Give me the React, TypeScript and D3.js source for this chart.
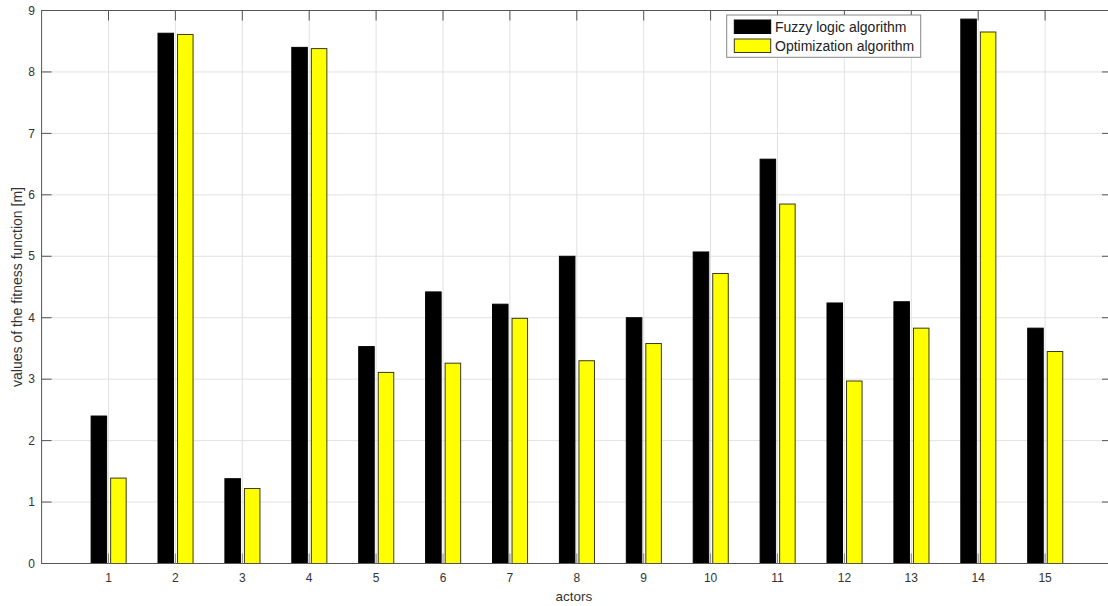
import React from "react";
import * as d3 from "d3";

const categories = ["1","2","3","4","5","6","7","8","9","10","11","12","13","14","15"];
const fuzzy = [2.40, 8.63, 1.38, 8.40, 3.53, 4.42, 4.22, 5.00, 4.00, 5.07, 6.58, 4.24, 4.26, 8.86, 3.83];
const optimization = [1.39, 8.61, 1.22, 8.38, 3.11, 3.26, 3.99, 3.30, 3.58, 4.72, 5.85, 2.97, 3.83, 8.65, 3.45];
const yTicks = [0, 1, 2, 3, 4, 5, 6, 7, 8, 9];
const seriesNames = ["Fuzzy logic algorithm", "Optimization algorithm"];
const seriesColors = ["#000000", "#ffff00"];

const W = 1108;
const H = 606;
const left = 41.6;
const right = 1112;
const top = 10.5;
const bottom = 563.5;
const font = "'Liberation Sans', Arial, Helvetica, sans-serif";
const axisColor = "#555";
const gridColor = "#e2e2e2";
const textColor = "#333";

export default function App() {
  const x = d3.scaleLinear().domain([0, categories.length + 1]).range([left, right]);
  const y = d3.scaleLinear().domain([0, 9]).range([bottom, top]);
  const barW = 0.232;
  const offsets = [-0.26, 0.032];
  const series = [fuzzy, optimization];
  const tickLen = 10;

  return (
    <svg width={W} height={H} style={{ position: "absolute", left: 0, top: 0, background: "#fff" }}>
      <rect x={0} y={0} width={W} height={H} fill="#fff" />
      {/* grid */}
      {yTicks.map((t) => (
        <line key={"gy" + t} x1={left} x2={right} y1={y(t)} y2={y(t)} stroke={gridColor} strokeWidth={1} />
      ))}
      {categories.map((c, i) => (
        <line key={"gx" + c} x1={x(i + 1)} x2={x(i + 1)} y1={top} y2={bottom} stroke={gridColor} strokeWidth={1} />
      ))}
      {/* bars */}
      {series.map((vals, s) =>
        vals.map((v, i) => (
          <rect
            key={`b${s}-${i}`}
            x={x(i + 1 + offsets[s])}
            y={y(v)}
            width={x(barW) - x(0)}
            height={y(0) - y(v)}
            fill={seriesColors[s]}
            stroke={s === 0 ? "#000" : "#3a3a1a"}
            strokeWidth={1}
          />
        ))
      )}
      {/* axes box */}
      <rect x={left} y={top} width={right - left} height={bottom - top} fill="none" stroke={axisColor} strokeWidth={1} />
      {/* y ticks */}
      {yTicks.map((t) => (
        <g key={"ty" + t}>
          <line x1={left} x2={left + tickLen} y1={y(t)} y2={y(t)} stroke={axisColor} />
          <line x1={right} x2={right - tickLen} y1={y(t)} y2={y(t)} stroke={axisColor} />
          <text x={35} y={y(t)} dy="0.35em" textAnchor="end" fontFamily={font} fontSize={12} fill={textColor}>
            {t}
          </text>
        </g>
      ))}
      {/* x ticks */}
      {categories.map((c, i) => (
        <g key={"tx" + c}>
          <line x1={x(i + 1)} x2={x(i + 1)} y1={bottom} y2={bottom - tickLen} stroke="#888" />
          <line x1={x(i + 1)} x2={x(i + 1)} y1={top} y2={top + tickLen} stroke={axisColor} />
          <text x={x(i + 1)} y={582} textAnchor="middle" fontFamily={font} fontSize={12} fill={textColor}>
            {c}
          </text>
        </g>
      ))}
      {/* axis labels */}
      <text x={(left + right) / 2 - 3} y={601} textAnchor="middle" fontFamily={font} fontSize={13.5} fill={textColor}>
        actors
      </text>
      <text
        transform={`translate(21.5,${(top + bottom) / 2}) rotate(-90)`}
        textAnchor="middle"
        fontFamily={font}
        fontSize={14}
        fill={textColor}
      >
        values of the fitness function [m]
      </text>
      {/* legend */}
      <g>
        <rect x={726.7} y={15} width={194} height={42.3} fill="#fff" stroke="#888" strokeWidth={1} />
        {seriesNames.map((n, s) => (
          <g key={n}>
            <rect
              x={734.3}
              y={20 + s * 19}
              width={36.4}
              height={13.5}
              fill={seriesColors[s]}
              stroke={s === 0 ? "#000" : "#3a3a1a"}
            />
            <text x={775} y={32 + s * 19} fontFamily={font} fontSize={14} fill="#222">
              {n}
            </text>
          </g>
        ))}
      </g>
    </svg>
  );
}
